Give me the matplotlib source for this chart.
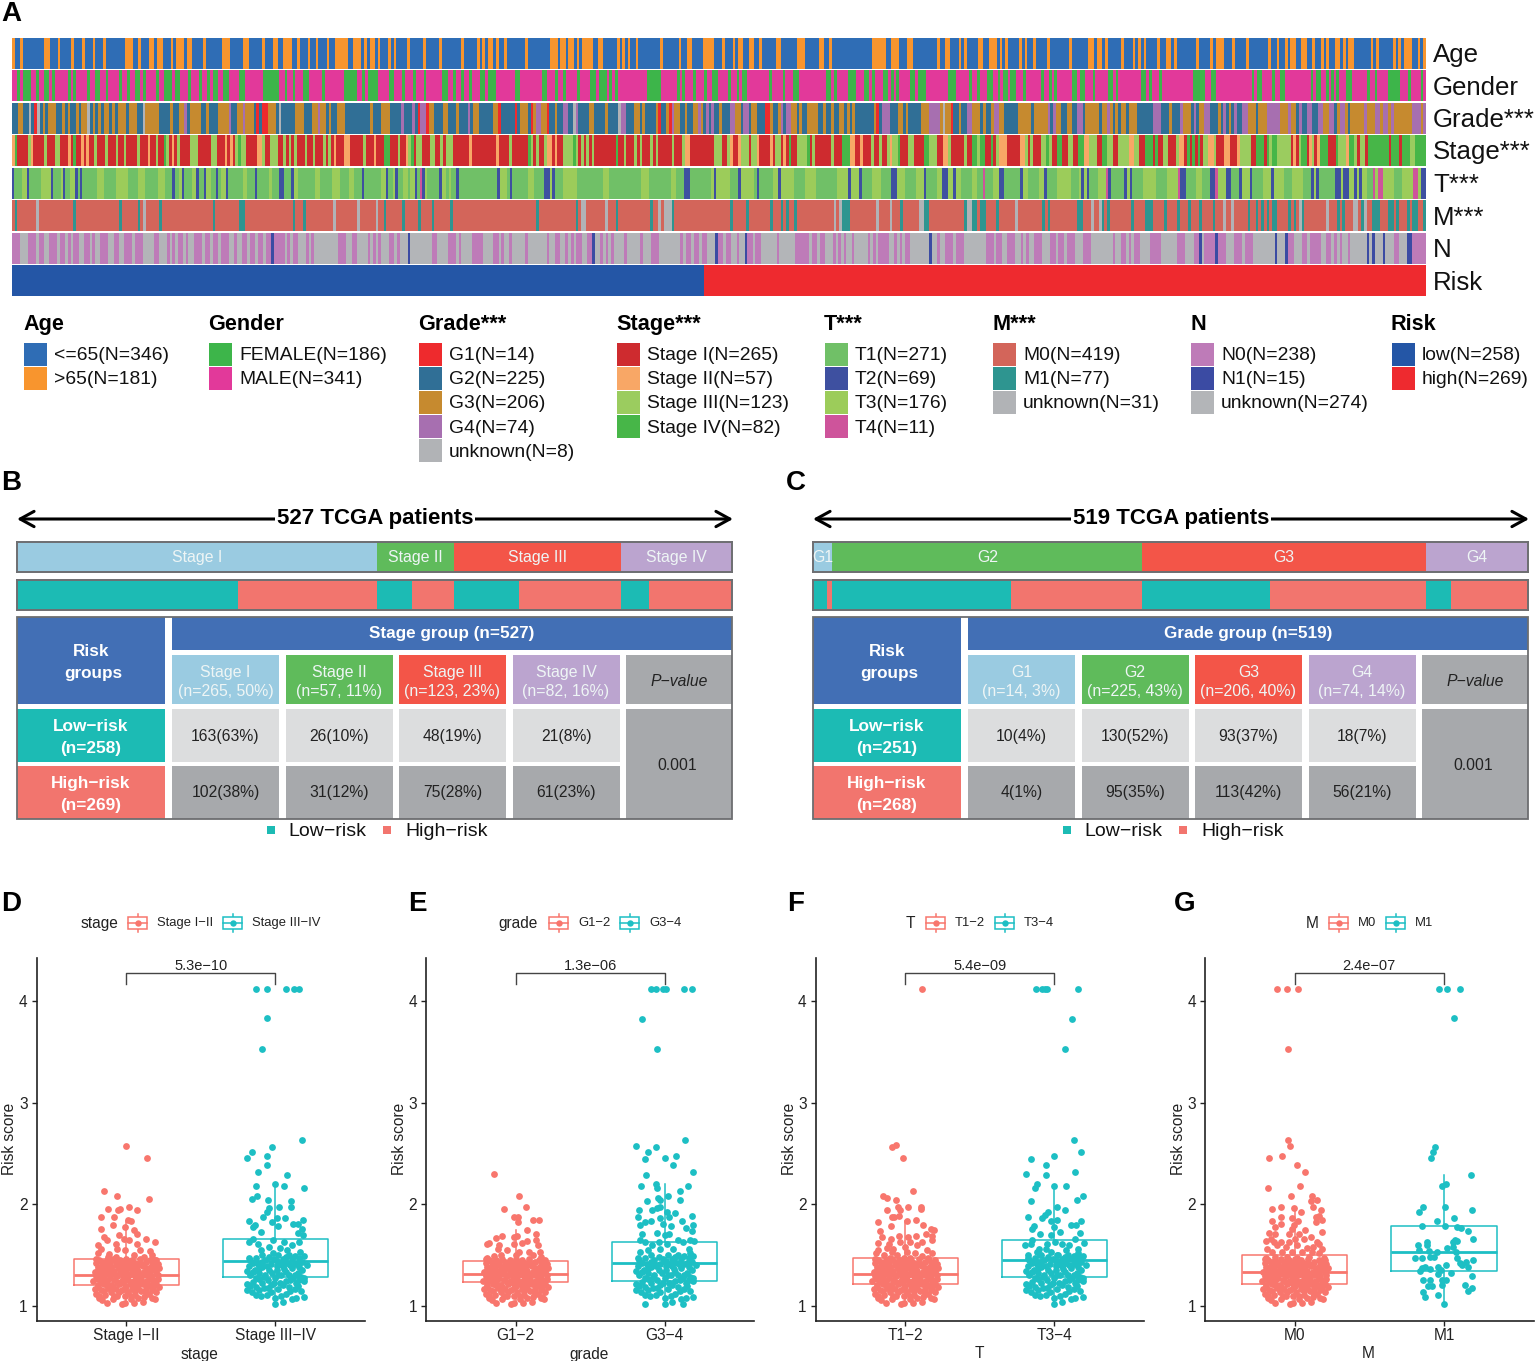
import numpy as np
import matplotlib
matplotlib.use("Agg")
import matplotlib.pyplot as plt
from matplotlib.colors import ListedColormap
from matplotlib.patches import Rectangle

plt.rcParams['font.family'] = ['Liberation Sans', 'DejaVu Sans']

# ---- panel A: one run-length string per clinical track (letter = legend entry, number = patients)
# "|" splits a track into the three stretches it was read in, so reading errors do not add up along the row
age_runs = ("b1 a2 b1 a8 b2 a3 b1 a4 b1 a3 b1 a3 b1 a3 b1 a7 b3 a2 b1 a3 b2 a1 b2 a3 b1 a1 b3 a1 b2 a4 b1 a6 b3 a5 b2 a5 "
            "b1 a3 b2 a2 b3 a2 b1 a3 b1 a2 b1 a3 b1 a2 b5 a2 b3 a1 b1 a1 b2 a1 b1 a3 b1 a1 b1 a1 a3 b1 a5 b1 a5 b1 a7 b1 "
            "a5 b1 a1 b1 a1 b2 a1 b1 a2 b1 a2 | "
            "a5 b1 a8 b3 a1 b2 a1 b2 a1 b1 a1 b4 a2 b2 a5 b1 a1 b1 a1 b1 a2 b1 a8 b1 a6 b1 a2 b2 a4 b4 a3 b1 a3 b1 a1 b2 "
            "a2 b2 a2 b1 a5 b2 a6 b3 a5 b2 a2 b1 a15 b5 a2 b3 a3 b2 a9 b1 a2 b2 a3 b1 a1 b1 a2 | "
            "a2 b2 a2 b3 a1 b1 a1 b1 a4 b1 a1 b1 a2 b1 a4 b1 a7 b1 a6 b2 a1 b2 a1 b1 a5 b1 a3 b1 a1 b1 a1 b1 a4 b1 a2 b2 "
            "a1 b1 a7 b1 a4 b1 a1 b3 a3 b1 a4 b1 a7 b1 a2 b1 a2 b1 a1 b2 a2 b2 a2 b1 a2 b1 a1 b1 a2 b2 a1 b1 a1 b2 a6 b1 "
            "a1 b1 a5 b1 a1 b1 a1 b3 a2 b1 a1 b1")
gender_runs = ("b2 a1 b1 a3 b2 a1 b2 a2 b1 a1 b5 a1 b1 a1 b4 a1 b2 a2 b2 a1 b4 a1 b2 a1 b2 a2 b1 a1 b4 a1 b2 a3 b1 a2 b3 a1 "
               "b3 a1 b2 a1 b1 a2 b2 a2 b4 a2 b7 a2 a4 b2 a1 b2 a1 b3 a2 b5 a1 b7 a5 b2 a1 b1 a4 b4 a2 b3 a1 b3 a1 b3 a1 "
               "b6 a2 b2 a1 b2 a1 b2 a1 b3 a2 b1 a3 b6 | "
               "b1 a2 b8 a2 b3 a1 b2 a1 b4 a1 b4 a2 b1 a3 b1 a1 b1 a1 b11 a5 b6 a1 b1 a1 b3 a1 b3 a1 b2 a2 b4 a1 b2 a1 b1 "
               "a2 b8 a1 b4 a1 b3 a2 b10 a2 b1 a1 b4 a3 b3 a2 b1 a1 b3 a2 b1 a1 b1 a1 b4 a2 b1 a3 b8 a3 b5 a1 | "
               "b2 a1 b3 a2 b2 a1 b1 a2 b1 a2 b3 a1 b6 a1 b2 a1 b1 a1 b6 a2 b1 a2 b3 a1 b5 a2 b1 a1 b9 a2 b1 a1 b3 a1 b12 "
               "a5 b2 a2 b14 a1 b1 a2 b4 a1 b2 a2 b10 a1 b1 a2 b2 a1 b1 a1 b1 a1 b3 a2 b6 a1 b2 a1 b4 a5 b3 a1 b4 a1 b1")
grade_runs = ("b2 c2 b2 e1 b1 a1 e1 b1 c1 b1 c3 b2 c1 b1 c1 b2 c1 b1 c2 e1 b1 c1 b1 c1 b1 c2 b1 c1 b1 c3 b1 c3 b2 e1 c5 b4 c1 "
              "b2 c2 d1 b1 c4 b2 c1 b3 c4 d1 b2 c2 d1 c3 b1 a1 b1 a2 c3 b1 e1 b2 b3 c3 b3 c2 d1 c2 b1 c1 b2 c3 b9 c1 b3 c3 "
              "b4 d1 b3 d1 b1 a1 d2 a1 c2 b3 c2 b3 c1 b3 d1 b1 c2 b5 c2 a1 b4 | "
              "b1 a1 b1 c3 b1 a1 c1 d2 c2 a1 b2 c1 b2 d2 b2 e1 d1 b4 c2 b4 c1 b4 e1 d2 b3 c2 b1 c1 b4 c1 a1 b2 c1 a1 d1 c2 "
              "b2 c1 b2 c2 d1 c1 b1 d1 b1 d1 b2 c1 b3 d2 c2 b1 d2 b1 c2 b3 a2 c1 b2 c1 d1 b1 d2 c2 b1 c1 b2 c4 b2 c1 b2 c1 "
              "b2 c2 b1 c1 b1 c1 b7 c1 a1 b1 d3 b3 c2 b1 c1 b5 c3 d4 c1 e1 c2 a1 b2 c1 b2 d2 | "
              "c3 b1 c1 b2 c1 d2 c2 b5 c5 b1 c5 d1 b1 d1 c2 b2 c2 b2 d2 b1 c5 b1 c2 d1 c1 b1 c1 b1 c2 b1 c3 b6 d3 b3 c1 b3 "
              "d1 c3 b1 d1 b1 c2 d2 b3 c1 b1 d1 b1 c1 b1 d1 b2 d2 c3 b1 c3 d5 c3 d1 c2 b1 d1 b2 d2 b2 d2 c2 d2 b1 c1 d2 c1 "
              "b1 c5 d1 c3 d2 c1 d2 c1 d1 c7 d3 c1 d1")
stage_runs = ("b1 d1 a4 c1 b1 a4 c1 a3 c2 a3 b1 a1 d1 a2 b1 a1 b1 a2 c1 a3 c1 a3 c1 a2 c1 a4 c1 a3 b1 a2 c1 a2 d1 c1 a1 b1 a1 "
              "c1 a4 c3 a5 c2 a3 b1 a1 b1 a1 c1 d1 c2 a4 b2 c1 a2 c3 a2 c1 a1 c1 a1 c1 a3 c1 a2 c1 a3 c1 a1 c1 a1 b1 a3 b2 "
              "a5 c1 a3 b1 a3 d2 a3 c1 a2 b1 c1 d1 a1 c2 a3 c2 a2 c1 a1 c3 a6 b1 a9 b1 a4 c1 | "
              "a6 d1 c1 a1 c1 a2 c1 b2 a1 b1 a2 c4 d1 c1 a1 c1 a1 c1 a1 c1 a8 d1 a2 c1 a3 c1 a1 c1 a3 c1 a1 c1 a5 c1 a3 c1 "
              "b2 a9 c3 a2 c1 b1 a2 b1 c3 a1 c2 b1 a4 b1 a1 c2 a1 b1 a1 d1 a2 c4 d1 a1 c1 a6 c1 a3 d3 b2 a2 b1 a3 c1 a2 c1 "
              "a2 c1 b1 c2 d1 a3 c2 a4 d2 c3 a2 b2 c1 a5 c1 a2 | "
              "d2 c1 d2 a2 d1 a1 c1 b3 a5 b2 c1 a1 c1 a3 c2 d1 c1 a2 d2 a2 c2 a2 d2 b2 c3 a2 d2 c2 a2 c4 b2 c2 a2 d3 a1 d1 "
              "a2 c2 a3 c1 b2 a1 d1 a1 d1 a1 d1 a1 c2 b2 c1 a3 b2 a3 b1 c4 a2 d3 a1 d1 c1 d2 c5 a1 b1 a1 c1 d2 a1 b1 c1 a1 "
              "b1 d3 a3 d1 c3 b1 d2 c1 a1 c2 a1 d8 a1 d3 a1 d3 c2 d4")
t_runs = ("b1 a3 c2 b1 a5 c4 b1 a3 c1 b1 a2 c2 b1 a1 b1 a6 c3 a5 c2 c3 a4 c3 a5 c3 a3 b1 a2 c1 b1 a3 c2 b1 a2 b1 c2 a2 b1 a1 "
          "c2 b1 a6 c2 a3 b1 a5 c1 a3 b2 a3 b1 c2 a7 c2 a5 c3 a4 c2 a3 b1 a7 c2 b1 a2 c1 b1 a2 c2 a1 c2 b1 a1 d1 b1 c1 a5 "
          "b1 c2 a1 c1 a2 b1 a16 b1 c3 a1 b1 | "
          "a6 c2 a4 b2 c1 b1 a3 c5 a10 c2 a12 c3 a8 c2 a3 b2 a8 c1 b1 c5 a3 b1 c5 a1 b1 a5 c2 b1 c5 a4 c4 a8 c4 b1 c3 b1 "
          "a4 c3 a4 b2 c3 a4 c3 b1 a4 c2 b2 c2 b1 c2 a4 | "
          "c2 a2 d1 a3 c2 b2 a6 b1 c2 a4 c2 b1 a4 c5 a3 c1 b1 c1 b1 a3 c3 d1 b1 a5 b1 c1 b1 a4 c5 a4 c4 d1 b2 a4 c2 a3 b2 "
          "d1 c3 b2 a3 b1 c3 b1 a4 c3 b1 c4 a3 c4 a3 b1 c1 b1 a6 b2 c1 b2 c2 b1 c1 b1 c2 a2 d1 c1 d2 c4 a3 c4 d2 c1 b2")
m_runs = ("a1 b1 a7 c1 a13 b1 a16 b1 a6 b1 a1 c1 a5 b1 a19 b1 a9 b2 a18 b1 a3 b1 a10 c1 a8 c1 a6 c1 a2 b1 a6 b1 a5 b1 a4 b1 "
          "a6 b1 a22 | "
          "a9 b1 a14 b1 a1 c2 a7 c1 a3 b1 a12 b1 a2 c1 a1 c3 b1 a21 b1 a5 b1 a8 b1 a3 b1 a1 b1 a2 b1 a14 c1 a1 c1 b3 a10 "
          "c1 a4 c1 a3 b1 a6 c2 b2 a13 b1 c2 | "
          "b2 a1 b2 a4 b1 a6 c1 a9 b1 a1 b1 a10 b2 a3 c1 a2 c1 b1 a1 b1 a8 b1 a4 b3 a4 b1 a4 b1 a3 b1 a3 b1 a4 b1 a3 c1 a2 "
          "c1 a5 b1 a2 b1 a1 b1 a1 b1 a1 b2 a4 b1 a1 b1 a1 c1 b1 a8 c1 a3 b1 a1 b1 a3 c2 a1 b1 c1 a2 b3 a3 b2 a1 b1 a3 b1 "
          "a1 b2 a2 b1")
n_runs = ("a3 c3 a3 c1 a2 c2 a3 c1 a2 c1 a1 c1 a2 c2 a2 c1 a1 c2 a3 c2 a2 c2 a3 c1 a3 c4 a2 c3 a1 c1 a1 c1 a2 c1 a1 c2 a3 c1 "
          "a2 c1 a2 c1 a3 c2 a1 c2 a2 c1 a2 c1 a2 c1 a2 b1 a4 c1 a1 c1 a2 c3 a1 c1 a1 c9 a3 c2 a2 c4 a1 c1 a1 c1 a1 c3 a2 "
          "c1 a1 c3 b1 c8 a2 c4 a3 c1 a1 c4 a4 c4 a2 c1 a1 c2 a1 | "
          "c5 a1 c7 a1 c2 a2 c2 a1 c1 a1 c1 a2 c2 a2 b1 c2 a1 c1 a1 c1 a1 c4 a1 c5 a1 c3 a3 c8 a1 c1 a2 c1 a2 c1 a2 c3 b1 "
          "a2 c1 a2 c2 a1 c2 b1 a2 c1 a2 c6 a1 c6 a5 c1 a2 c1 a2 c3 a1 c1 a1 c1 a1 c2 a1 c5 a1 c1 a1 c1 a4 c2 a1 c1 a1 c1 "
          "a2 c7 b1 c2 a1 c2 a3 c1 a3 c3 | "
          "c5 a3 c1 a2 c2 a3 c2 a1 c1 a1 c2 a3 c3 a2 c1 a2 c1 a3 c3 a3 c8 a1 c2 a2 c1 a1 c1 a2 c4 a4 c6 a3 c3 a2 b1 c1 a4 "
          "b1 a3 c3 a3 c1 a3 c8 b1 c3 b1 a2 c3 a2 c1 a4 c2 a2 c1 a1 c1 a1 c2 a1 c6 b1 c1 b1 c3 b1 c3 a2 c3 b2 a5")
risk_runs = "a258 b269"

track_labels = ['Age', 'Gender', 'Grade***', 'Stage***', 'T***', 'M***', 'N', 'Risk']
track_data = [age_runs, gender_runs, grade_runs, stage_runs, t_runs, m_runs, n_runs, risk_runs]
track_colors = [['#2F6DB5', '#F8952E'],
                ['#3DB54A', '#E2399A'],
                ['#EE2A2D', '#306F96', '#C68A2F', '#A76FB0', '#B1B3B6'],
                ['#CE2B2F', '#F8A766', '#9BCC5F', '#47B648'],
                ['#70C067', '#3E50A0', '#9CCC5A', '#CE549B'],
                ['#D3655A', '#2E9590', '#B1B3B6'],
                ['#BE7BB8', '#3B4BA3', '#B3B5B8'],
                ['#2456A6', '#EE2A2F']]
legend_labels = [['<=65(N=346)', '>65(N=181)'],
                 ['FEMALE(N=186)', 'MALE(N=341)'],
                 ['G1(N=14)', 'G2(N=225)', 'G3(N=206)', 'G4(N=74)', 'unknown(N=8)'],
                 ['Stage I(N=265)', 'Stage II(N=57)', 'Stage III(N=123)', 'Stage IV(N=82)'],
                 ['T1(N=271)', 'T2(N=69)', 'T3(N=176)', 'T4(N=11)'],
                 ['M0(N=419)', 'M1(N=77)', 'unknown(N=31)'],
                 ['N0(N=238)', 'N1(N=15)', 'unknown(N=274)'],
                 ['low(N=258)', 'high(N=269)']]

# ---- panels B and C
stage_names = ['Stage I', 'Stage II', 'Stage III', 'Stage IV']
stage_sub = ['(n=265, 50%)', '(n=57, 11%)', '(n=123, 23%)', '(n=82, 16%)']
stage_totals = [265, 57, 123, 82]
stage_low = [163, 26, 48, 21]
stage_high = [102, 31, 75, 61]
stage_low_txt = ['163(63%)', '26(10%)', '48(19%)', '21(8%)']
stage_high_txt = ['102(38%)', '31(12%)', '75(28%)', '61(23%)']

grade_names = ['G1', 'G2', 'G3', 'G4']
grade_sub = ['(n=14, 3%)', '(n=225, 43%)', '(n=206, 40%)', '(n=74, 14%)']
grade_totals = [14, 225, 206, 74]
grade_low = [10, 130, 93, 18]
grade_high = [4, 95, 113, 56]
grade_low_txt = ['10(4%)', '130(52%)', '93(37%)', '18(7%)']
grade_high_txt = ['4(1%)', '95(35%)', '113(42%)', '56(21%)']

# ---- panels D-G: (jitter offset, risk score).
# The dense bottoms of the clouds cannot be told apart point by point, so these are estimates.
low_cloud = [(-.13,1.03),(-.03,1.02),(-.01,1.03),(.05,1.03),(.11,1.04),(.17,1.08),(.19,1.07),(-.18,1.08),(-.16,1.06),
             (-.09,1.07),(.03,1.07),(.08,1.08),(.12,1.09),(-.2,1.12),(-.14,1.11),(-.06,1.1),(-.01,1.1),(.06,1.11),
             (.15,1.12),(.2,1.13),(-.1,1.13),(.01,1.13),(.1,1.14),(-.21,1.16),(-.17,1.15),(-.12,1.17),(-.07,1.16),
             (-.03,1.15),(.04,1.16),(.08,1.17),(.13,1.16),(.18,1.17),(.22,1.18),(-.19,1.2),(-.15,1.21),(-.1,1.2),
             (-.05,1.21),(0,1.19),(.03,1.21),(.07,1.2),(.11,1.21),(.16,1.2),(.2,1.21),(-.22,1.24),(-.17,1.25),
             (-.13,1.24),(-.08,1.25),(-.03,1.24),(.01,1.25),(.05,1.24),(.09,1.25),(.14,1.24),(.18,1.25),(.21,1.26),
             (-.2,1.29),(-.15,1.28),(-.11,1.3),(-.06,1.29),(-.02,1.28),(.02,1.3),(.06,1.29),(.1,1.28),(.13,1.3),
             (.17,1.29),(.21,1.3),(-.21,1.33),(-.16,1.34),(-.12,1.33),(-.08,1.34),(-.04,1.33),(0,1.34),(.04,1.33),
             (.08,1.34),(.12,1.33),(.16,1.34),(.2,1.33),(-.19,1.38),(-.14,1.37),(-.1,1.38),(-.05,1.37),(-.01,1.38),
             (.03,1.37),(.07,1.38),(.11,1.39),(.15,1.37),(.19,1.38),(.22,1.37),(-.2,1.42),(-.16,1.43),(-.11,1.42),
             (-.07,1.43),(-.02,1.42),(.02,1.43),(.06,1.42),(.13,1.43),(.18,1.42),
             (-.18,1.1),(-.08,1.1),(.03,1.1),(.13,1.12),(-.15,1.14),(-.05,1.13),(.06,1.14),(.17,1.15),
             (-.19,1.18),(-.09,1.18),(-.01,1.17),(.06,1.19),(.14,1.19),(-.13,1.2),(-.02,1.22),(.09,1.22),(.19,1.23),
             (-.15,1.23),(-.06,1.23),(.03,1.23),(.12,1.23),(-.19,1.26),(-.11,1.27),(-.01,1.27),(.07,1.27),(.16,1.27),
             (-.17,1.31),(-.08,1.31),(0,1.31),(.08,1.31),(.15,1.31),(-.14,1.31),(-.03,1.31),(.04,1.31),(.11,1.31),
             (-.19,1.35),(-.1,1.35),(-.02,1.36),(.06,1.36),(.14,1.36),(.18,1.36),(-.16,1.39),(-.07,1.4),(.01,1.4),
             (.09,1.41),(.17,1.4),(-.13,1.4),(-.04,1.4),(.05,1.4),(.12,1.41),(.21,1.41),(-.18,1.45),(-.13,1.45),
             (-.09,1.46),(-.04,1.45),(0,1.46),(.04,1.45),(.09,1.46),(.16,1.45),(.2,1.45),(-.2,1.46)]
high_cloud = [(0,1.02),(.05,1.04),(.14,1.08),(.19,1.09),(0,1.08),(.11,1.07),(-.1,1.1),(-.06,1.11),(-.13,1.11),(.07,1.12),
              (.17,1.14),(-.19,1.15),(-.03,1.13),(.02,1.16),(.13,1.16),(-.17,1.19),(-.08,1.17),(-.13,1.18),(.09,1.18),
              (-.03,1.2),(.03,1.22),(.14,1.22),(.19,1.24),(-.19,1.21),(-.09,1.22),(.07,1.24),(.12,1.27),(-.13,1.27),
              (-.05,1.25),(0,1.27),(.17,1.28),(-.17,1.3),(-.11,1.32),(-.07,1.3),(.04,1.3),(.09,1.3),(.15,1.32),(.19,1.27),
              (-.19,1.34),(-.14,1.35),(-.04,1.35),(.01,1.35),(.06,1.36),(.11,1.37),(.16,1.38),(.21,1.4),(-.18,1.39),
              (-.09,1.38),(-.12,1.41),(-.03,1.41),(.03,1.41),(.08,1.42),(.13,1.41),(.18,1.43),(-.17,1.45),(-.07,1.45),
              (-.01,1.46),(.05,1.46),(.11,1.46),(.16,1.47),(-.13,1.47),(.19,1.49),(-.09,1.5),(.02,1.5),(.09,1.5),
              (-.16,1.13),(.04,1.1),(-.11,1.15),(.1,1.14),(-.05,1.17),(.15,1.19),(-.15,1.23),(.05,1.2),(-.01,1.22),
              (.1,1.25),(-.11,1.26),(.16,1.25),(-.08,1.28),(.02,1.3),(.13,1.3),(-.15,1.33),(-.02,1.32),(.07,1.33),
              (.18,1.35),(-.11,1.37),(-.06,1.39),(.01,1.39),(.05,1.39),(.1,1.4),(.15,1.42),(-.15,1.42),(-.09,1.43),
              (.01,1.44),(.06,1.43),(-.04,1.48),(-.18,1.47),(.13,1.49),(.07,1.48)]

d_low = [(0,2.57),(.136,2.46),(-.15,2.13),(-.06,2.08),(.15,2.05),(-.12,1.95),(-.04,1.95),(-.055,1.94),(.02,1.97),(.07,1.94),
         (-.17,1.87),(-.08,1.87),(-.09,1.8),(.015,1.84),(.03,1.83),(-.01,1.78),(-.17,1.76),(.05,1.75),(.07,1.71),(-.05,1.7),
         (-.15,1.68),(-.13,1.65),(-.19,1.6),(-.015,1.66),(.02,1.65),(.135,1.66),(.19,1.63),(.07,1.61),(-.07,1.61),(-.19,1.52),
         (-.17,1.56),(-.06,1.56),(-.005,1.55),(.095,1.55),(.16,1.54),(.17,1.5),(-.115,1.51),(.05,1.5),(-.07,1.48),(-.125,1.48),
         (.12,1.48),(.19,1.45)]
d_high = [(-.13,4.12),(-.055,4.12),(.07,4.12),(.125,4.12),(.16,4.12),(-.06,3.84),(-.09,3.53),(.18,2.63),(-.02,2.56),(-.155,2.51),
          (-.19,2.46),(-.055,2.48),(-.06,2.39),(-.115,2.32),(.075,2.29),(0,2.2),(-.13,2.18),(.055,2.18),(.19,2.16),(-.125,2.08),
          (-.16,2.05),(-.05,2.04),(.105,2.03),(.105,1.97),(.025,1.97),(-.045,1.96),(-.06,1.92),(-.085,1.87),(.065,1.86),(.01,1.86),
          (.185,1.84),(-.025,1.82),(-.175,1.83),(-.135,1.8),(-.15,1.78),(.02,1.79),(.115,1.81),(.15,1.81),(.175,1.76),(-.1,1.73),
          (.15,1.72),(.185,1.7),(-.15,1.66),(-.18,1.63),(-.015,1.65),(.055,1.63),(.155,1.63),(-.115,1.61),(.11,1.6),(-.045,1.58),
          (.03,1.57),(-.1,1.55),(.075,1.55),(.165,1.53),(-.015,1.52)]
e_low = [(-.147,2.3),(.02,2.08),(-.075,1.95),(.07,1.97),(-.01,1.87),(.015,1.87),(.015,1.82),(.12,1.84),(.155,1.84),(.075,1.75),
         (.14,1.71),(-.13,1.67),(-.09,1.69),(-.01,1.68),(.01,1.69),(-.19,1.61),(-.18,1.62),(-.11,1.6),(.045,1.62),(.08,1.64),
         (.135,1.65),(.15,1.6),(-.01,1.61),(-.12,1.56),(-.055,1.55),(.02,1.53),(.09,1.53),(.165,1.53),(-.1,1.5),(.12,1.5),
         (.17,1.48),(-.19,1.47),(-.145,1.49),(0,1.5),(.18,1.09)]
e_high = [(-.09,4.12),(-.06,4.12),(-.015,4.12),(.005,4.12),(.13,4.12),(.18,4.12),(-.15,3.83),(-.055,3.53),(.135,2.63),(-.19,2.57),
          (-.06,2.56),(-.115,2.51),(-.13,2.45),(0,2.46),(.075,2.48),(.055,2.39),(.19,2.32),(-.125,2.29),(-.06,2.2),(-.05,2.16),
          (-.16,2.18),(.155,2.18),(.105,2.13),(-.12,2.03),(-.045,2.06),(-.03,2.04),(.02,2.08),(.105,2.04),(-.17,1.94),(-.085,1.94),
          (-.055,1.96),(-.03,1.97),(.015,1.92),(.07,1.91),(.185,1.88),(-.18,1.87),(-.03,1.86),(.03,1.87),(.115,1.83),(-.095,1.83),
          (-.135,1.82),(-.165,1.8),(-.01,1.81),(.045,1.79),(.14,1.77),(.19,1.8),(.18,1.74),(-.05,1.72),(.03,1.71),(-.155,1.71),
          (0,1.7),(-.165,1.65),(-.13,1.63),(.09,1.65),(.17,1.65),(.195,1.64),(.12,1.63),(-.04,1.63),(.015,1.61),(-.085,1.6),
          (.16,1.56),(-.165,1.53),(-.03,1.56),(.055,1.56),(-.11,1.55),(.17,1.52),(-.13,1.02),(.12,1.02)]
f_low = [(.115,4.12),(-.09,2.56),(-.06,2.58),(-.015,2.46),(.05,2.13),(-.15,2.08),(-.125,2.06),(-.065,2.04),(-.125,1.94),(-.05,1.97),
         (-.035,1.94),(.02,1.97),(.105,1.97),(.105,1.95),(-.09,1.87),(-.075,1.87),(-.04,1.88),(.015,1.83),(.07,1.84),(-.18,1.82),
         (-.095,1.79),(.12,1.8),(.17,1.76),(.19,1.75),(-.17,1.74),(.14,1.71),(-.155,1.68),(-.095,1.66),(-.045,1.69),(.02,1.68),
         (.075,1.69),(.18,1.69),(-.185,1.62),(-.11,1.61),(-.035,1.63),(.035,1.63),(.11,1.63),(.18,1.65),(-.12,1.57),(-.08,1.56),
         (0,1.58),(.08,1.6),(-.18,1.55),(-.195,1.52),(-.09,1.53),(.01,1.53),(.145,1.55),(.18,1.52),(-.055,1.5),(.065,1.52),
         (-.145,1.5),(.11,1.49),(-.01,1.47),(.035,1.47),(-.1,1.47),(.15,1.47)]
f_high = [(-.125,4.12),(-.085,4.12),(-.065,4.12),(-.05,4.12),(.16,4.12),(.12,3.83),(.07,3.53),(.13,2.63),(.18,2.51),(-.155,2.45),
          (0,2.48),(-.055,2.39),(-.19,2.3),(-.06,2.29),(.14,2.32),(-.115,2.2),(-.13,2.16),(0,2.18),(.075,2.18),(.19,2.08),
          (.15,2.04),(-.16,2.03),(.02,1.97),(.07,1.94),(-.045,1.92),(-.065,1.89),(-.085,1.86),(-.175,1.87),(-.025,1.83),(.015,1.84),
          (.18,1.83),(.11,1.8),(.145,1.8),(-.135,1.79),(-.15,1.76),(-.005,1.78),(.04,1.73),(-.1,1.71),(.17,1.72),(-.02,1.7),
          (-.15,1.65),(.14,1.66),(-.195,1.6),(.2,1.62),(-.16,1.61),(-.05,1.61),(.005,1.63),(.05,1.61),(.095,1.6),(-.105,1.56),
          (-.06,1.56),(.08,1.55),(.155,1.56),(-.12,1.53),(.16,1.52),(-.02,1.53),(-.095,1.5),(-.175,1.5),(.025,1.5)]
g_low = [(-.12,4.12),(-.05,4.12),(.02,4.12),(-.045,3.53),(-.045,2.63),(-.035,2.57),(-.175,2.46),(-.085,2.48),(.015,2.39),(.07,2.32),
         (-.18,2.16),(.035,2.18),(-.025,2.08),(.115,2.08),(.11,2.03),(.15,2.04),(-.15,1.95),(-.09,1.97),(-.005,1.96),(.125,1.97),
         (.045,1.92),(.175,1.94),(-.095,1.87),(-.02,1.86),(.14,1.87),(.16,1.88),(.185,1.84),(-.15,1.83),(-.13,1.78),(-.09,1.81),
         (.025,1.83),(-.005,1.8),(-.02,1.76),(.14,1.82),(.07,1.75),(-.175,1.72),(-.13,1.71),(-.04,1.71),(.03,1.71),(.185,1.73),
         (-.195,1.64),(-.16,1.66),(-.14,1.63),(-.095,1.63),(-.04,1.63),(.005,1.66),(.06,1.66),(.11,1.68),(.15,1.63),(.16,1.61),
         (-.185,1.56),(-.12,1.6),(-.06,1.58),(.015,1.6),(.08,1.57),(.125,1.58),(.185,1.56),(-.15,1.53),(-.085,1.53),(-.02,1.53),
         (.05,1.53),(.115,1.53),(.16,1.52),(-.195,1.47),(-.13,1.48),(-.05,1.48),(.015,1.47),(.095,1.48),(.195,1.47)]
g_high = [(-.03,4.12),(.02,4.12),(.105,4.12),(.07,3.84),(-.06,2.56),(-.075,2.51),(-.09,2.46),(.18,2.29),(.015,2.2),(-.015,2.18),
          (-.14,1.97),(-.17,1.92),(.01,1.97),(.185,1.94),(.07,1.86),(-.05,1.83),(-.15,1.79),(.01,1.79),(.085,1.78),(.115,1.77),
          (.16,1.74),(.195,1.66),(.075,1.65),(.06,1.63),(.085,1.64),(-.115,1.63),(-.175,1.6),(-.115,1.6),(.02,1.57),(.06,1.58),
          (-.17,1.55),(-.1,1.54),(-.05,1.53),(.08,1.53),(-.195,1.47),(-.15,1.47),(-.095,1.48),(-.07,1.48),(.09,1.47),(.105,1.42),
          (.195,1.45),(.15,1.43),(.12,1.4),(.16,1.38),(-.15,1.37),(-.125,1.38),(-.095,1.36),(-.16,1.34),(-.04,1.38),(.015,1.4),
          (-.02,1.35),(-.04,1.31),(.05,1.32),(.19,1.29),(-.14,1.25),(-.095,1.25),(-.01,1.25),(.015,1.25),(-.015,1.2),(-.105,1.19),
          (-.08,1.19),(.14,1.2),(.185,1.17),(.16,1.14),(-.14,1.13),(-.13,1.09),(-.04,1.11),(0,1.02)]

# box stats per group: low whisker, q1, median, q3, high whisker
d_boxes = [(1.02, 1.20, 1.30, 1.46, 1.83), (1.02, 1.28, 1.44, 1.66, 2.20)]
e_boxes = [(1.02, 1.23, 1.31, 1.44, 1.75), (1.02, 1.24, 1.42, 1.63, 2.20)]
f_boxes = [(1.02, 1.21, 1.315, 1.47, 1.83), (1.02, 1.285, 1.45, 1.65, 2.16)]
g_boxes = [(1.02, 1.21, 1.33, 1.50, 1.97), (1.02, 1.345, 1.53, 1.785, 2.29)]

LOW_TEAL = '#1CBBB4'
HIGH_SALMON = '#F2756E'
GG_RED = '#F8766D'
GG_TEAL = '#1DBFC4'
LIGHT_GRAY = '#DCDDDE'
DARK_GRAY = '#A7A9AC'
HEADER_BLUE = '#426FB5'
FRAME_GRAY = '#6D6E71'
GROUP_COLORS = ['#9ACBE1', '#5FBB5B', '#F35548', '#BBA4CF']

W, H = 1536, 1361
fig = plt.figure(figsize=(W / 100, H / 100), dpi=100)
canvas = fig.add_axes([0, 0, 1, 1])


def px_axes(x0, y0, x1, y1):
    # axes placed with reference pixel coordinates (y measured from the top)
    return fig.add_axes([x0 / W, 1 - y1 / H, (x1 - x0) / W, (y1 - y0) / H])


def expand_runs(runs):
    values = []
    for tok in runs.split():
        values += [ord(tok[0]) - ord('a')] * int(tok[1:])
    return np.array(values)


def box(x0, y0, x1, y1, color):
    canvas.add_patch(Rectangle((x0, y0), x1 - x0, y1 - y0, facecolor=color, edgecolor='none'))


def label(x, y, s, size, ha='center', color='black', **kw):
    # +1: text sits about a pixel lower in the reference than va='center' puts it
    canvas.text(x, y + 1, s, fontsize=size, ha=ha, va='center', color=color, **kw)


# panel letters
for letter, lx, ly in [('A', 1, 13), ('B', 1, 482), ('C', 786, 482), ('D', 1, 903), ('E', 408, 903),
                       ('F', 787, 903), ('G', 1174, 903)]:
    label(lx, ly, letter, 20, ha='left', fontweight='bold')

# ---- A: tracks
track_tops = [38, 70.5, 103, 135, 168, 200.5, 233, 265.5]
section_edges = [12, 512, 972, 1425.5]
for i, runs in enumerate(track_data):
    cols = track_colors[i]
    sections = runs.split('|')
    edges = section_edges if len(sections) == 3 else [12, 1425.5]
    for s, part in enumerate(sections):
        vals = expand_runs(part)
        canvas.imshow(vals[np.newaxis, :], cmap=ListedColormap(cols), vmin=0, vmax=len(cols) - 1, aspect='auto',
                      interpolation='nearest', extent=(edges[s], edges[s + 1], track_tops[i] + 30.5, track_tops[i]))
    label(1433, track_tops[i] + 16, track_labels[i], 18.6, ha='left', color='#111111')

# ---- A: legend columns
legend_x = [24, 209, 419, 617, 825, 993, 1191, 1392]
for i, name in enumerate(track_labels):
    label(legend_x[i] - 1, 323, name, 15.6, ha='left', fontweight='bold')
    for j, entry in enumerate(legend_labels[i]):
        top = 342.5 + j * 24.2
        box(legend_x[i], top, legend_x[i] + 23, top + 23, track_colors[i][j])
        label(legend_x[i] + 30, top + 12, entry, 13.9, ha='left', color='#111111')


# ---- B / C
def draw_group_panel(dx, n_text, totals, low, high, names, sub, group_title, low_n, high_n, low_txt, high_txt):
    # double headed arrow with the cohort size on top of it
    canvas.annotate('', xy=(17 + dx, 519), xytext=(733 + dx, 519),
                    arrowprops=dict(arrowstyle='<->,head_width=0.55,head_length=1.0', lw=2.2, color='black',
                                    shrinkA=0, shrinkB=0))
    canvas.text(375 + dx, 518, n_text, fontsize=16.0, fontweight='bold', ha='center', va='center',
                bbox=dict(facecolor='white', edgecolor='none', pad=1.5))

    # group bar
    ax = px_axes(17 + dx, 542, 732 + dx, 572)
    left = 0
    for k, val in enumerate(totals):
        ax.barh(0, val, left=left, height=1, color=GROUP_COLORS[k])
        ax.text(left + val / 2, -0.02, names[k], color='#EEF5F5', fontsize=11.4, ha='center', va='center', clip_on=True)
        left += val
    ax.set_xlim(0, sum(totals))
    ax.set_ylim(-.5, .5)

    # risk split bar
    ax2 = px_axes(17 + dx, 580, 732 + dx, 610)
    left = 0
    for k in range(len(totals)):
        ax2.barh(0, low[k], left=left, height=1, color=LOW_TEAL)
        left += low[k]
        ax2.barh(0, high[k], left=left, height=1, color=HIGH_SALMON)
        left += high[k]
    ax2.set_xlim(0, left)
    ax2.set_ylim(-.5, .5)
    for a in (ax, ax2):
        a.set_xticks([])
        a.set_yticks([])
        for sp in a.spines.values():
            sp.set_color(FRAME_GRAY)
            sp.set_linewidth(1.4)

    # table
    col_x = [172, 285.5, 399, 512.5]
    col_w = 107
    box(17 + dx, 617, 165 + dx, 704, HEADER_BLUE)
    box(172 + dx, 617, 732 + dx, 649.5, HEADER_BLUE)
    label(91 + dx, 650, 'Risk', 12.3, color='white', fontweight='bold')
    label(93 + dx, 672, 'groups', 12.3, color='white', fontweight='bold')
    label(452 + dx, 632, group_title, 12.3, color='white', fontweight='bold')
    box(17 + dx, 709, 165 + dx, 762, LOW_TEAL)
    box(17 + dx, 766, 165 + dx, 818.5, HIGH_SALMON)
    label(91 + dx, 725, 'Low\u2212risk', 12.4, color='white', fontweight='bold')
    label(91 + dx, 747, low_n, 12.4, color='white', fontweight='bold')
    label(91 + dx, 782, 'High\u2212risk', 12.4, color='white', fontweight='bold')
    label(91 + dx, 804, high_n, 12.4, color='white', fontweight='bold')
    for k, cx in enumerate(col_x):
        mid = cx + col_w / 2 + dx
        box(cx + dx, 654.5, cx + col_w + dx, 704, GROUP_COLORS[k])
        label(mid, 671, names[k], 11.4, color='#EEF5F5')
        label(mid, 690, sub[k], 11.4, color='#EEF5F5')
        box(cx + dx, 709, cx + col_w + dx, 762, LIGHT_GRAY)
        label(mid, 735, low_txt[k], 11.3, color='#222222')
        box(cx + dx, 766, cx + col_w + dx, 818.5, DARK_GRAY)
        label(mid, 791.5, high_txt[k], 11.3, color='#222222')
    box(625.5 + dx, 654.5, 732 + dx, 704, DARK_GRAY)
    label(679 + dx, 680, 'P\u2212value', 11.3, color='#222222', fontstyle='italic')
    box(625.5 + dx, 709, 732 + dx, 818.5, DARK_GRAY)
    label(677 + dx, 764, '0.001', 11.3, color='#222222')
    canvas.add_patch(Rectangle((17 + dx, 616.5), 715, 202.5, fill=False, edgecolor=FRAME_GRAY, lw=1.3))

    # legend
    box(267 + dx, 826, 275 + dx, 834, LOW_TEAL)
    label(288 + dx, 830, 'Low\u2212risk', 14.0, ha='left', color='#111111')
    box(383 + dx, 826, 391 + dx, 834, HIGH_SALMON)
    label(405 + dx, 830, 'High\u2212risk', 14.0, ha='left', color='#111111')


draw_group_panel(0, '527 TCGA patients', stage_totals, stage_low, stage_high, stage_names, stage_sub,
                 'Stage group (n=527)', '(n=258)', '(n=269)', stage_low_txt, stage_high_txt)
draw_group_panel(796, '519 TCGA patients', grade_totals, grade_low, grade_high, grade_names, grade_sub,
                 'Grade group (n=519)', '(n=251)', '(n=268)', grade_low_txt, grade_high_txt)


# ---- D-G
def draw_legend_key(x0, color):
    canvas.plot([x0 + 9.5, x0 + 9.5], [913.5, 931.5], color=color, lw=1.1)
    canvas.add_patch(Rectangle((x0, 916.5), 19, 12, facecolor='white', edgecolor=color, lw=1.1, zorder=3))
    canvas.plot([x0, x0 + 19], [922.5, 922.5], color=color, lw=1.1, zorder=4)
    canvas.plot([x0 + 9.5], [922.5], 'o', color=color, ms=4.6, mew=0, zorder=5)


def draw_score_panel(dx, cats, var, p_text, low_pts, high_pts, boxes, legend_pos):
    ax = px_axes(36.7 + dx, 957.7, 365 + dx, 1320.7)
    for k, pts in enumerate([low_pts, high_pts]):
        color = GG_RED if k == 0 else GG_TEAL
        st = boxes[k]
        ax.bxp([dict(whislo=st[0], q1=st[1], med=st[2], q3=st[3], whishi=st[4], fliers=[])], positions=[k + 1],
               widths=0.706, showcaps=False, showfliers=False, manage_ticks=False,
               boxprops=dict(color=color, lw=1.1), whiskerprops=dict(color=color, lw=1.1),
               medianprops=dict(color=color, lw=2.0))
        xy = np.array(pts)
        ax.scatter(k + 1 + xy[:, 0], xy[:, 1], s=24, color=color, linewidths=0, zorder=4)
    ax.set_xlim(0.4, 2.6)
    ax.set_ylim(0.852, 4.43)
    ax.set_xticks([1, 2])
    ax.set_xticklabels(cats)
    ax.set_yticks([1, 2, 3, 4])
    ax.tick_params(labelsize=11.2, length=3.5, width=1, color='#222222', pad=3, labelcolor='#222222')
    ax.tick_params(axis='x', pad=1.5)
    ax.spines['top'].set_visible(False)
    ax.spines['right'].set_visible(False)
    for s in ('left', 'bottom'):
        ax.spines[s].set_linewidth(1.2)
        ax.spines[s].set_color('#222222')
    ax.plot([1, 1, 2, 2], [4.17, 4.275, 4.275, 4.17], color='#444444', lw=1, clip_on=False)
    ax.text(1.5, 4.28, p_text, fontsize=10.5, ha='center', va='bottom', color='#222222', clip_on=False)
    label(10 + dx, 1138, 'Risk score', 11.2, rotation=90, color='#222222')
    label(200 + dx, 1353, var, 11.2, color='#222222')
    # legend row
    label(legend_pos[0], 922, var, 11.2, ha='right', color='#222222')
    draw_legend_key(legend_pos[1], GG_RED)
    label(legend_pos[1] + 29, 922, cats[0], 9.4, ha='left', color='#222222')
    draw_legend_key(legend_pos[2], GG_TEAL)
    label(legend_pos[2] + 29, 922, cats[1], 9.4, ha='left', color='#222222')


draw_score_panel(0, ['Stage I\u2212II', 'Stage III\u2212IV'], 'stage', '5.3e\u221210', low_cloud + d_low, high_cloud + d_high,
                 d_boxes, (118, 128, 223))
draw_score_panel(389.3, ['G1\u22122', 'G3\u22124'], 'grade', '1.3e\u221206', low_cloud + e_low, high_cloud + e_high,
                 e_boxes, (538, 549, 620))
draw_score_panel(779, ['T1\u22122', 'T3\u22124'], 'T', '5.4e\u221209', low_cloud + f_low, high_cloud + f_high,
                 f_boxes, (915, 926, 995))
draw_score_panel(1168.5, ['M0', 'M1'], 'M', '2.4e\u221207', low_cloud + g_low, g_high,
                 g_boxes, (1319, 1329, 1386))

canvas.set_xlim(0, W)
canvas.set_ylim(H, 0)
canvas.axis('off')

fig.savefig('out.png', dpi=100)
